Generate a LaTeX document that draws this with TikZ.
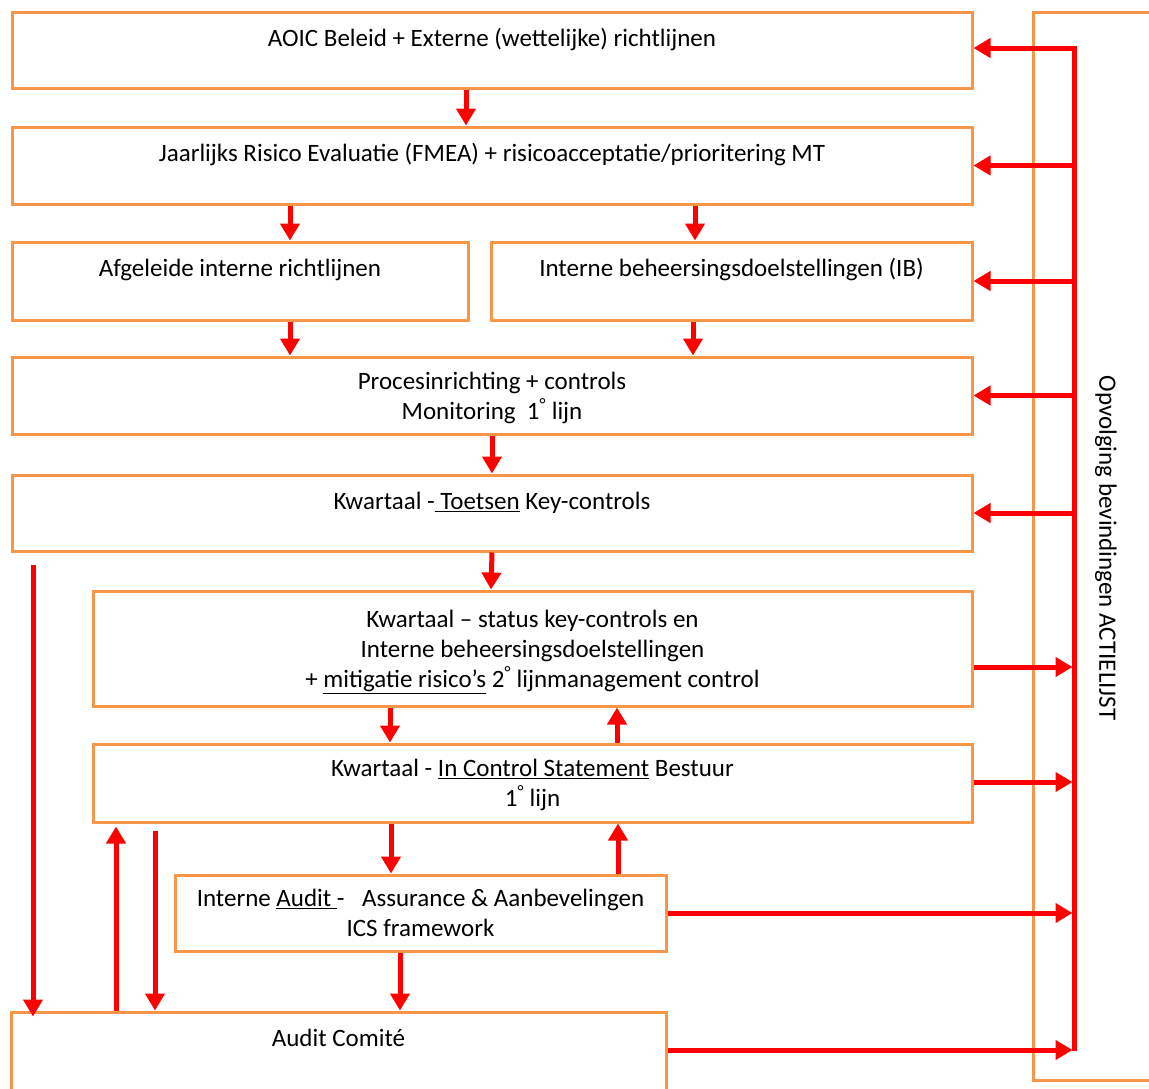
\documentclass[tikz,border=0pt]{standalone}
\usepackage{fontspec}
\setmainfont{Carlito}
\usetikzlibrary{arrows.meta}
\definecolor{boxorange}{RGB}{247,150,70}
\definecolor{flowred}{RGB}{255,0,0}
\tikzset{
  txt/.style={font=\fontsize{25}{30}\selectfont},
  box/.style={draw=boxorange, line width=3pt, shape=rectangle, align=center, inner sep=0pt, text depth=0pt, txt},
  toptext/.style={label={[anchor=base, yshift=-36pt, txt]north:{#1}}},
  flow/.style={draw=flowred, line width=5pt, -{Triangle[length=17pt,width=19pt]}},
}
\begin{document}
\begin{tikzpicture}[x=1pt, y=-1pt]
            \useasboundingbox (0,0) rectangle (1149,1088);

            % kolom met blokken
            \node[box, minimum width=960pt, minimum height=76pt, toptext={AOIC Beleid + Externe (wettelijke) richtlijnen}] (aoic) at (492,50) {};
            \node[box, minimum width=960pt, minimum height=77pt, toptext={Jaarlijks Risico Evaluatie (FMEA) + risicoacceptatie/prioritering MT}] (jaar) at (492,165.5) {};
            \node[box, minimum width=456pt, minimum height=78pt, toptext={Afgeleide interne richtlijnen}] (afgel) at (240,281) {};
            \node[box, minimum width=481pt, minimum height=78pt, toptext={Interne beheersingsdoelstellingen (IB)}] (ib) at (731.5,281) {};
            \node[box, minimum width=960pt, minimum height=77pt] (proces) at (492,395.5) {Procesinrichting + controls\\Monitoring\ \ 1\textsuperscript{°} lijn};
            \node[box, minimum width=960pt, minimum height=76pt, toptext={Kwartaal -\underline{\ Toetsen} Key-controls}] (toets) at (492,513) {};
            \node[box, minimum width=879pt, minimum height=115pt] (status) at (532.5,648.5) {Kwartaal -- status key-controls en\\Interne beheersingsdoelstellingen\\+ \underline{mitigatie risico’s} 2\textsuperscript{°} lijnmanagement control};
            \node[box, minimum width=879pt, minimum height=78pt] (ics) at (532.5,783) {Kwartaal - \underline{In Control Statement} Bestuur\\1\textsuperscript{°} lijn};
            \node[box, minimum width=491pt, minimum height=76pt] (audit) at (420.5,913) {Interne \underline{Audit\ }-\hspace{0.7em}Assurance \& Aanbevelingen\\ICS framework};
            \node[box, minimum width=655pt, minimum height=88pt, toptext={Audit Comité}] (comite) at (338.5,1056) {};

            % actielijst rechts
            \node[draw=boxorange, line width=3pt, minimum width=127pt, minimum height=1068pt] (actie) at (1096.5,546) {};
            \node[txt, rotate=-90] (actielbl) at (1106,548) {Opvolging bevindingen ACTIELIJST};
            \coordinate (bustop) at (1074,48);
            \coordinate (busbot) at (1074,1051);

            % terugkoppeling naar de blokken
            \draw[flow] (busbot) -- (bustop) -- (bustop -| aoic.east);
            \draw[flow] (bustop |- jaar.east) -- (jaar.east);
            \draw[flow] (bustop |- ib.east) -- (ib.east);
            \draw[flow] (bustop |- proces.east) -- (proces.east);
            \draw[flow] (bustop |- toets.east) -- (toets.east);

            % bevindingen naar de actielijst
            \draw[flow] ([yshift=-18.5pt]status.east) -- +(99,0);
            \draw[flow] ([yshift=1pt]ics.east) -- +(99,0);
            \draw[flow] (audit.east) -- +(405,0);
            \draw[flow] ([yshift=6pt]comite.east) -- +(405,0);

            % stroom omlaag
            \draw[flow] ([xshift=-26pt]aoic.south) -- ([xshift=-26pt]jaar.north);
            \draw[flow] ([xshift=-202pt]jaar.south) -- ([xshift=50pt]afgel.north);
            \draw[flow] ([xshift=203pt]jaar.south) -- ([xshift=-36.5pt]ib.north);
            \draw[flow] ([xshift=50pt]afgel.south) -- ([xshift=-202pt]proces.north);
            \draw[flow] ([xshift=-38.5pt]ib.south) -- ([xshift=201pt]proces.north);
            \draw[flow] (proces.south) -- (toets.north);
            \draw[flow] (toets.south) -- ([xshift=-41.5pt]status.north);
            \draw[flow] ([xshift=-142.5pt]status.south) -- ([xshift=-142.5pt]ics.north);
            \draw[flow] ([xshift=84.5pt]ics.north) -- ([xshift=84.5pt]status.south);
            \draw[flow] ([xshift=-141.5pt]ics.south) -- ([xshift=-29.5pt]audit.north);
            \draw[flow] ([xshift=197.5pt]audit.north) -- ([xshift=85.5pt]ics.south);
            \draw[flow] ([xshift=-20.5pt]audit.south) -- ([xshift=61.5pt]comite.north);

            % lijnen langs links
            \draw[flow] ([xshift=-459pt,yshift=-12pt]toets.south) -- ([xshift=-305.5pt,yshift=-6pt]comite.north);
            \draw[flow] ([xshift=-222.5pt]comite.north) -- ([xshift=-416.5pt,yshift=-3pt]ics.south);
            \draw[flow] ([xshift=-377.5pt,yshift=-7pt]ics.south) -- ([xshift=-183.5pt]comite.north);
\end{tikzpicture}
\end{document}
